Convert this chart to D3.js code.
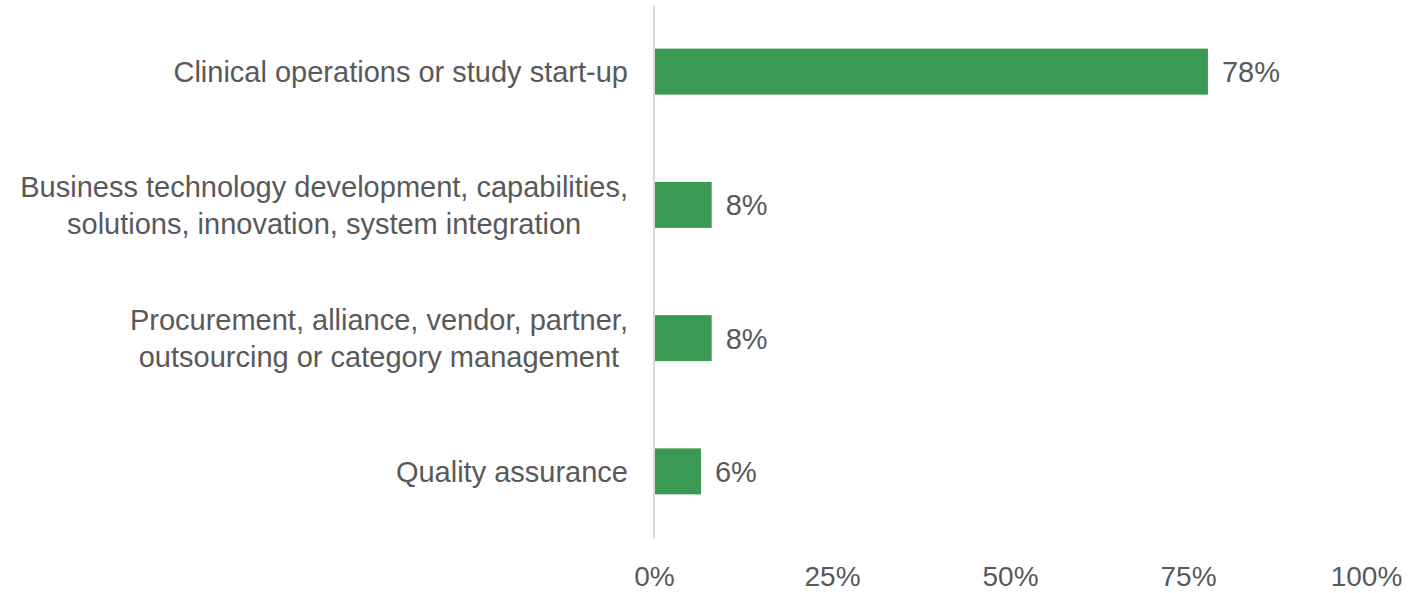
<!DOCTYPE html>
<html>
<head>
<meta charset="utf-8">
<script src="https://cdn.jsdelivr.net/npm/d3@7"></script>
<style>
  body { margin: 0; background: #fff; }
  svg text { font-family: "Liberation Sans", Arial, sans-serif; fill: #595959; }
</style>
</head>
<body>
<div class="chart"></div>
<script>
// chart values
var categories = [
    ["Clinical operations or study start-up"],
    ["Business technology development, capabilities,", "solutions, innovation, system integration"],
    ["Procurement, alliance, vendor, partner,", "outsourcing or category management"],
    ["Quality assurance"]
];
var values = [77.8, 8.1, 8.1, 6.6];
var valueLabels = ["78%", "8%", "8%", "6%"];
var ticks = [0, 25, 50, 75, 100];

var config = {
    w: 1408,
    h: 593,
    left: 654,
    right: 42,
    top: 5,
    bottom: 55,
    fontSize: 29,
    tickFontSize: 28,
    barColor: '#3a9952'
};

var drawChart = function () {
    var svg = d3.select('.chart')
        .append('svg')
        .attr('width', config.w)
        .attr('height', config.h);

    var xScale = d3.scaleLinear()
        .domain([0, 100])
        .range([config.left, config.w - config.right]);

    var yScale = d3.scaleBand()
        .domain(d3.range(categories.length))
        .range([config.top, config.h - config.bottom])
        .paddingInner(0.655)
        .paddingOuter(0.3275);

    // bars
    svg.selectAll('rect.bar')
        .data(values)
        .enter()
        .append('rect')
        .attr('class', 'bar')
        .attr('x', xScale(0))
        .attr('y', function (d, i) { return yScale(i); })
        .attr('width', function (d) { return xScale(d) - xScale(0); })
        .attr('height', yScale.bandwidth())
        .attr('fill', config.barColor);

    // value labels
    svg.selectAll('text.value')
        .data(values)
        .enter()
        .append('text')
        .attr('class', 'value')
        .attr('x', function (d) { return xScale(d) + 14; })
        .attr('y', function (d, i) { return yScale(i) + yScale.bandwidth() / 2; })
        .attr('dy', '0.36em')
        .attr('font-size', config.fontSize)
        .text(function (d, i) { return valueLabels[i]; });

    // vertical axis line
    svg.append('line')
        .attr('x1', xScale(0))
        .attr('x2', xScale(0))
        .attr('y1', config.top + 1)
        .attr('y2', config.h - config.bottom)
        .attr('stroke', '#d9d9d9')
        .attr('stroke-width', 2);

    // x axis tick labels
    var xAxis = d3.axisBottom(xScale)
        .tickValues(ticks)
        .tickSize(0)
        .tickPadding(0)
        .tickFormat(function (d) { return d + '%'; });

    var gx = svg.append('g')
        .attr('transform', 'translate(0,' + (config.h - config.bottom) + ')')
        .call(xAxis);
    gx.select('.domain').remove();
    gx.selectAll('text')
        .attr('font-size', config.tickFontSize)
        .attr('font-family', null)
        .attr('y', 48)
        .attr('dy', 0);

    // category labels: block right-aligned, lines centered in block
    var labelRight = 628;
    var lineGap = 37;
    categories.forEach(function (lines, i) {
        var g = svg.append('g');
        var texts = lines.map(function (line, j) {
            return g.append('text')
                .attr('font-size', config.fontSize)
                .attr('text-anchor', 'middle')
                .attr('y', yScale(i) + yScale.bandwidth() / 2 + (j - (lines.length - 1) / 2) * lineGap)
                .attr('dy', '0.36em')
                .text(line);
        });
        var maxW = d3.max(texts, function (t) { return t.node().getComputedTextLength(); });
        texts.forEach(function (t) { t.attr('x', labelRight - maxW / 2); });
    });
};

drawChart();
</script>
</body>
</html>
